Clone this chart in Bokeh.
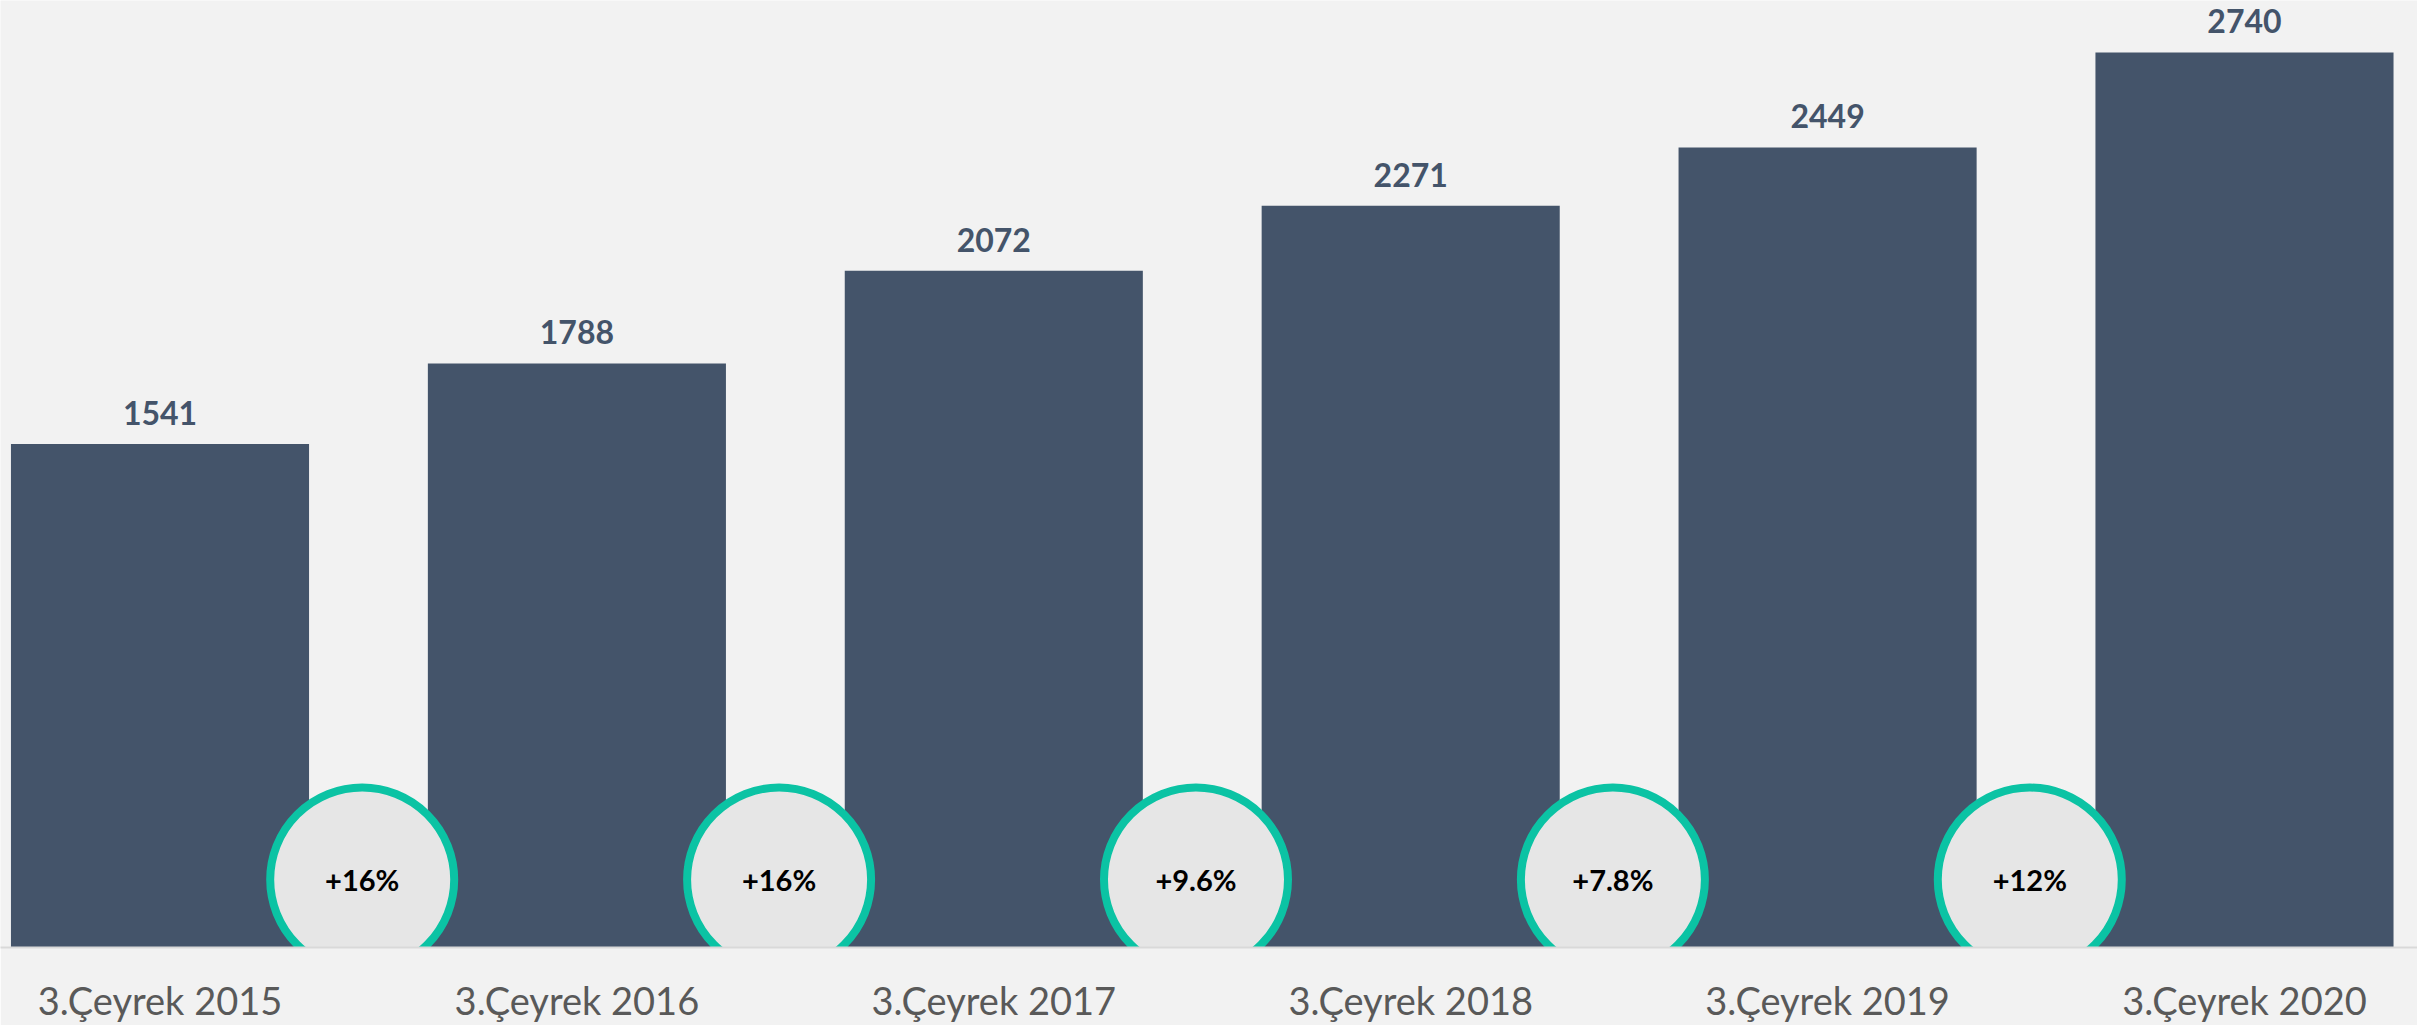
from bokeh.plotting import figure
from bokeh.models import ColumnDataSource, Range1d, FixedTicker
from bokeh.core.properties import value
from bokeh.embed import file_html
from bokeh.resources import INLINE

categories = ["3.Çeyrek 2015", "3.Çeyrek 2016", "3.Çeyrek 2017",
              "3.Çeyrek 2018", "3.Çeyrek 2019", "3.Çeyrek 2020"]
values = [1541, 1788, 2072, 2271, 2449, 2740]
growth_labels = ["+16%", "+16%", "+9.6%", "+7.8%", "+12%"]

BG = "#F2F2F2"
BAR = "#44546A"
FONT = "Lato"

xs = list(range(len(categories)))
bar_src = ColumnDataSource(dict(x=xs, top=values, label=[str(v) for v in values]))
mid_x = [i + 0.485 for i in range(len(growth_labels))]
circle_y = [208] * len(growth_labels)
circ_src = ColumnDataSource(dict(x=mid_x, y=circle_y, label=growth_labels))

p = figure(width=2417, height=1025, output_backend="svg", toolbar_location=None,
           x_range=Range1d(-0.3826, 5.415), y_range=Range1d(0, 2899),
           y_axis_location=None, min_border_left=0, min_border_right=0,
           min_border_top=0, min_border_bottom=60)
p.background_fill_color = BG
p.border_fill_color = BG
p.outline_line_color = None
p.grid.visible = False

p.vbar(x="x", top="top", bottom=0, width=0.715, source=bar_src,
       fill_color=BAR, line_color=None)

p.text(x="x", y="top", text="label", source=bar_src, text_align="center",
       text_baseline="alphabetic", y_offset=-31,
       text_font=value(FONT), text_font_style="bold",
       text_font_size="32px", text_color=BAR)

p.scatter(x="x", y="y", source=circ_src, marker="circle", size=184,
          fill_color="#E6E6E6", line_color="#0BC3A4", line_width=8)
p.text(x="x", y="y", text="label", source=circ_src, text_align="center",
       text_baseline="middle", text_font=value(FONT),
       text_font_style="bold", text_font_size="29px", text_color="#000000")

ax = p.xaxis[0]
ax.ticker = FixedTicker(ticks=xs)
ax.major_label_overrides = {i: c for i, c in enumerate(categories)}
ax.major_tick_line_color = None
ax.minor_tick_line_color = None
ax.major_tick_out = 0
ax.major_tick_in = 0
ax.minor_tick_out = 0
ax.minor_tick_in = 0
ax.axis_line_color = "#D9D9D9"
ax.axis_line_width = 2
ax.major_label_standoff = 29
ax.major_label_text_font = FONT
ax.major_label_text_font_size = "38px"
ax.major_label_text_color = "#595959"

html = file_html(p, INLINE)
html = html.replace("<body>", '<body style="background:#F2F2F2">', 1)
open("out.html", "w").write(html)
